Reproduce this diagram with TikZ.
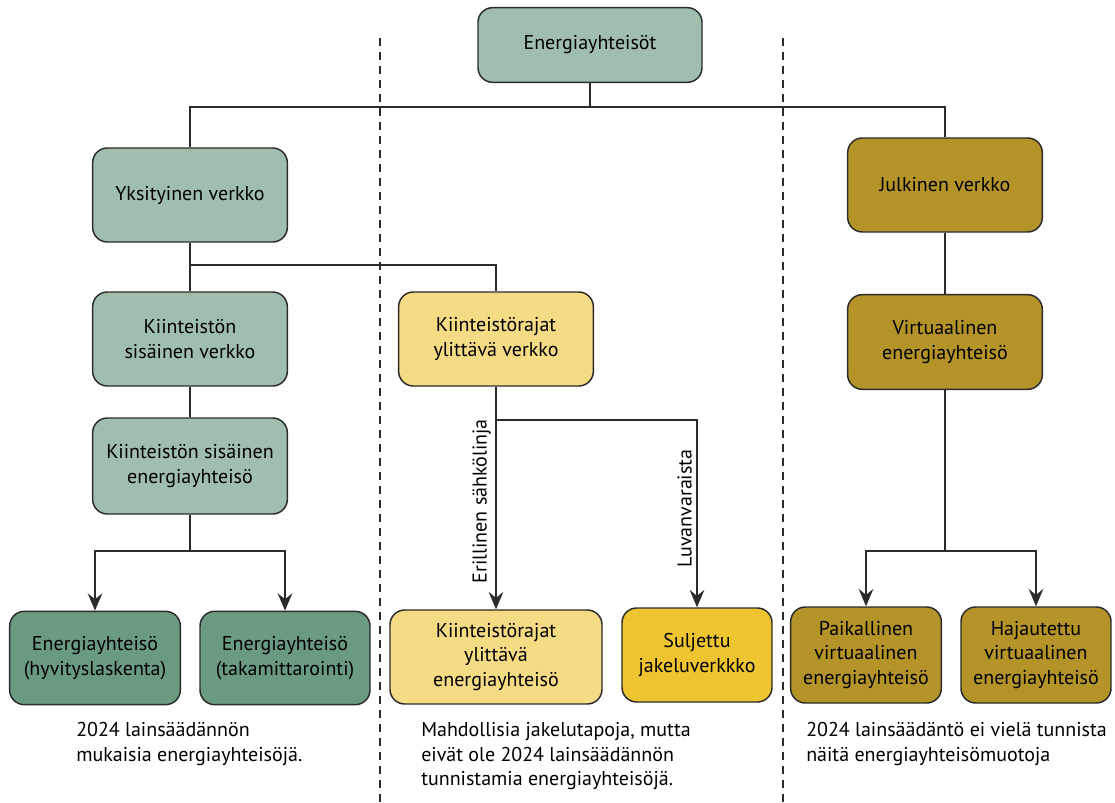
\documentclass[tikz,border=0pt]{standalone}
\usepackage{fontspec}
\setmainfont{PT Sans}
\usepackage{xcolor}
\usetikzlibrary{arrows.meta,positioning}
\definecolor{cSage}{HTML}{A0BEAD}
\definecolor{cForest}{HTML}{6A9A80}
\definecolor{cOchre}{HTML}{B49329}
\definecolor{cPale}{HTML}{F5DB84}
\definecolor{cSun}{HTML}{EEC430}
\definecolor{cEdge}{HTML}{2B2B2B}

\begin{document}
\begin{tikzpicture}[
    x=0.75pt, y=-0.75pt,
    font=\fontsize{15}{18.5}\selectfont,
    >={Stealth[length=13pt,width=11pt,inset=4.5pt]},
    box/.style={rounded corners=11pt, draw=cEdge, line width=1.1pt, align=center,
                inner sep=3pt, minimum width=146pt, minimum height=70.5pt},
    sage/.style={box, fill=cSage},
    forest/.style={box, fill=cForest},
    ochre/.style={box, fill=cOchre},
    pale/.style={box, fill=cPale},
    sun/.style={box, fill=cSun},
    link/.style={draw=cEdge, line width=1.1pt},
    sep/.style={draw=cEdge, line width=0.9pt, dash pattern=on 6pt off 4.5pt},
    note/.style={align=left, anchor=north west, inner sep=0pt}
]
\useasboundingbox (0,0) rectangle (1115,803);

% --- root ---
\node[sage, minimum width=168pt, minimum height=56pt] (root) at (590,45) {Energiayhteisöt};

% --- network types ---
\node[sage] (priv) at (190,195) {Yksityinen verkko};
\node[ochre] (publ) at (945,185) {Julkinen verkko};

% --- private branch ---
\node[sage] (inner) at (190,339) {Kiinteistön\\ sisäinen verkko};
\node[sage, minimum height=72pt] (innerec) at (190,466) {Kiinteistön sisäinen\\ energiayhteisö};
\node[forest, minimum width=128pt, minimum height=70pt] (credit) at (95,658)
  {Energiayhteisö\\ (hyvityslaskenta)};
\node[forest, minimum width=127.5pt, minimum height=70pt] (btm) at (285,658)
  {Energiayhteisö\\ (takamittarointi)};

% --- cross-property branch ---
\node[pale] (cross) at (496,339) {Kiinteistörajat\\ ylittävä verkko};
\node[pale, minimum width=159pt] (crossec) at (496,657)
  {Kiinteistörajat\\ ylittävä\\ energiayhteisö};
\node[sun, minimum width=112.5pt] (closed) at (697,655) {Suljettu\\ jakeluverkkko};

% --- public branch ---
\node[ochre, minimum height=71pt] (virt) at (945,342) {Virtuaalinen\\ energiayhteisö};
\node[ochre, minimum width=113pt, minimum height=72pt] (local) at (866,655)
  {Paikallinen\\ virtuaalinen\\ energiayhteisö};
\node[ochre, minimum width=112.5pt, minimum height=72pt] (spread) at (1036,655)
  {Hajautettu\\ virtuaalinen\\ energiayhteisö};

% --- junctions ---
\coordinate (rootbar) at (590,107);
\coordinate (privbar) at (190,265);
\coordinate (innerbar) at (190,551);
\coordinate (crossbar) at (496,420);
\coordinate (virtbar) at (945,551);

% --- connectors ---
\draw[link] (root) -- (rootbar) -| (priv.north);
\draw[link] (rootbar) -| (publ.north);
\draw[link] (priv) -- (inner);
\draw[link] (privbar) -| (cross.north);
\draw[link] (inner) -- (innerec);
\draw[link] (innerec) -- (innerbar);
\draw[link, ->] (innerbar) -| (credit.north);
\draw[link, ->] (innerbar) -| (btm.north);
\draw[link, ->] (cross) -- (crossec)
  node[pos=0.52, rotate=90, above=1pt] (lineA) {Erillinen sähkölinja};
\draw[link, ->] (crossbar) -| (closed.north)
  node[pos=0.74, rotate=90, above=1pt] (lineB) {Luvanvaraista};
\draw[link] (publ) -- (virt);
\draw[link] (virt) -- (virtbar);
\draw[link, ->] (virtbar) -| (local.north);
\draw[link, ->] (virtbar) -| (spread.north);

% --- separators ---
\draw[sep] (380,38) -- (380,803);
\draw[sep] (783,38) -- (783,803);

% --- notes ---
\node[note] (noteL) at (76,722) {2024 lainsäädännön\\ mukaisia energiayhteisöjä.};
\node[note] (noteM) at (421,722)
  {Mahdollisia jakelutapoja, mutta\\ eivät ole 2024 lainsäädännön\\ tunnistamia energiayhteisöjä.};
\node[note] (noteR) at (806,722)
  {2024 lainsäädäntö ei vielä tunnista\\ näitä energiayhteisömuotoja};

\end{tikzpicture}
\end{document}
